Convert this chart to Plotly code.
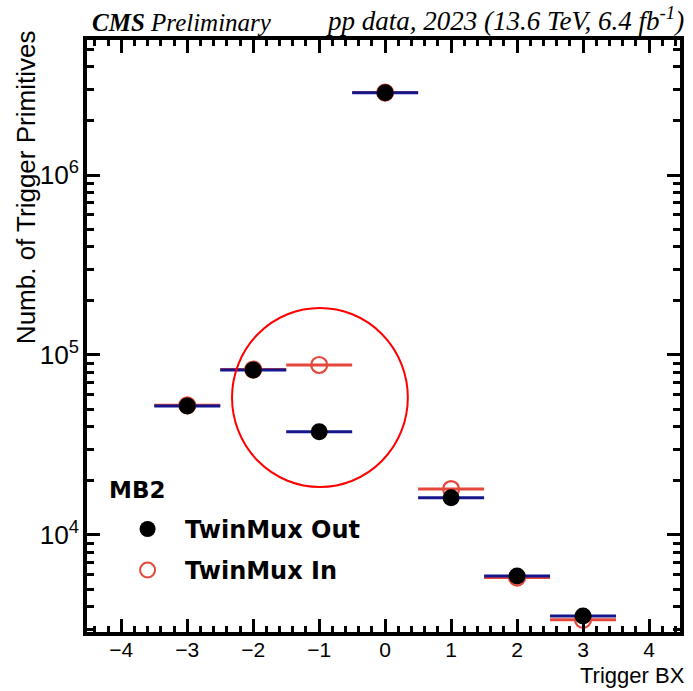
import plotly.graph_objects as go

# Trigger BX bins and counts per DT chamber MB2
bx = [-3, -2, -1, 0, 1, 2, 3]
twinmux_out = [5.2e4, 8.25e4, 3.75e4, 2.86e6, 1.61e4, 5.92e3, 3.55e3]
twinmux_in = [5.25e4, 8.3e4, 8.8e4, 2.87e6, 1.80e4, 5.8e3, 3.38e3]
bin_half_width = [0.5] * len(bx)

legend_header = "MB2"
label_out = "TwinMux Out"
label_in = "TwinMux In"

RED = "#e5473b"
NAVY = "#15168c"

fig = go.Figure()

# open red markers first so the filled black ones sit on top
fig.add_trace(go.Scatter(
    x=bx, y=twinmux_in, mode="markers", name=label_in,
    marker=dict(symbol="circle-open", size=16, color=RED, line=dict(width=2.2, color=RED)),
    error_x=dict(type="data", array=bin_half_width, symmetric=True, width=0,
                 thickness=3, color=RED),
    showlegend=False,
))
fig.add_trace(go.Scatter(
    x=bx, y=twinmux_out, mode="markers", name=label_out,
    marker=dict(symbol="circle", size=17, color="black"),
    error_x=dict(type="data", array=bin_half_width, symmetric=True, width=0,
                 thickness=3, color=NAVY),
    showlegend=False,
))

sans = "Liberation Sans, Arial, sans-serif"
wide_sans = "DejaVu Sans, sans-serif"
serif = "Liberation Serif, Times New Roman, serif"

axis_common = dict(
    showline=True, linewidth=3.5, linecolor="black", mirror="ticks",
    ticks="inside", tickwidth=2.5, tickcolor="black",
    showgrid=False, zeroline=False,
    tickfont=dict(family=sans, size=21, color="black"),
)

fig.update_xaxes(
    range=[-4.52, 4.47], dtick=1, tick0=0, ticklen=13, ticklabelstandoff=-4,
    minor=dict(ticks="inside", dtick=0.2, tick0=0, ticklen=6, tickwidth=2.5,
               tickcolor="black", showgrid=False),
    **axis_common,
)
fig.update_yaxes(
    type="log", range=[3.461, 6.75], dtick=1, ticklen=13,
    exponentformat="power",
    minor=dict(ticks="inside", dtick="D1", ticklen=7, tickwidth=2.5,
               tickcolor="black", showgrid=False),
    **axis_common,
)

annotations = [
    dict(text="<b><i>CMS</i></b><i> Preliminary</i>", xref="paper", yref="paper",
         x=0.005, y=1.0, xanchor="left", yanchor="bottom", showarrow=False,
         font=dict(family=serif, size=25, color="black"), yshift=2),
    dict(text="<i>pp data, 2023 (13.6 TeV, 6.4 fb<sup>-1</sup>)</i>", xref="paper", yref="paper",
         x=1.01, y=1.0, xanchor="right", yanchor="bottom", showarrow=False,
         font=dict(family=serif, size=27, color="black"), yshift=2),
    dict(text="Numb. of Trigger Primitives", xref="paper", yref="paper",
         x=-0.104, y=0.752, xanchor="center", yanchor="middle", textangle=-90,
         showarrow=False, font=dict(family=sans, size=26, color="black")),
    dict(text="Trigger BX", xref="paper", yref="paper",
         x=1.012, y=(632 - 675) / 592, xanchor="right", yanchor="middle",
         showarrow=False, font=dict(family=sans, size=22, color="black")),
    dict(text="<b>" + legend_header + "</b>", xref="paper", yref="paper",
         x=0.033, y=(632 - 490) / 592, xanchor="left", yanchor="middle",
         showarrow=False, font=dict(family=wide_sans, size=23, color="black")),
    dict(text="<b>" + label_out + "</b>", xref="paper", yref="paper",
         x=(184 - 87) / 597, y=(632 - 530) / 592, xanchor="left", yanchor="middle",
         showarrow=False, font=dict(family=wide_sans, size=24, color="black")),
    dict(text="<b>" + label_in + "</b>", xref="paper", yref="paper",
         x=(184 - 87) / 597, y=(632 - 571) / 592, xanchor="left", yanchor="middle",
         showarrow=False, font=dict(family=wide_sans, size=24, color="black")),
]

shapes = [
    # legend symbols
    dict(type="circle", xref="paper", yref="paper", xsizemode="pixel", ysizemode="pixel",
         xanchor=(148 - 87) / 597, yanchor=(632 - 529) / 592,
         x0=-8, x1=8, y0=-8, y1=8, fillcolor="black", line=dict(width=0)),
    dict(type="circle", xref="paper", yref="paper", xsizemode="pixel", ysizemode="pixel",
         xanchor=(148 - 87) / 597, yanchor=(632 - 570) / 592,
         x0=-7.5, x1=7.5, y0=-7.5, y1=7.5, fillcolor="rgba(0,0,0,0)",
         line=dict(width=2, color=RED)),
    # highlight ring around BX = -1
    dict(type="circle", xref="paper", yref="paper",
         x0=(233 - 87) / 597, x1=(410 - 87) / 597,
         y0=(632 - 487) / 592, y1=(632 - 308) / 592,
         line=dict(width=2, color="#ff0000"), fillcolor="rgba(0,0,0,0)"),
]

fig.update_layout(
    width=693, height=691,
    margin=dict(l=87, r=9, t=40, b=59),
    paper_bgcolor="white", plot_bgcolor="white",
    annotations=annotations, shapes=shapes,
    showlegend=False,
)

fig.write_html("out.html")
